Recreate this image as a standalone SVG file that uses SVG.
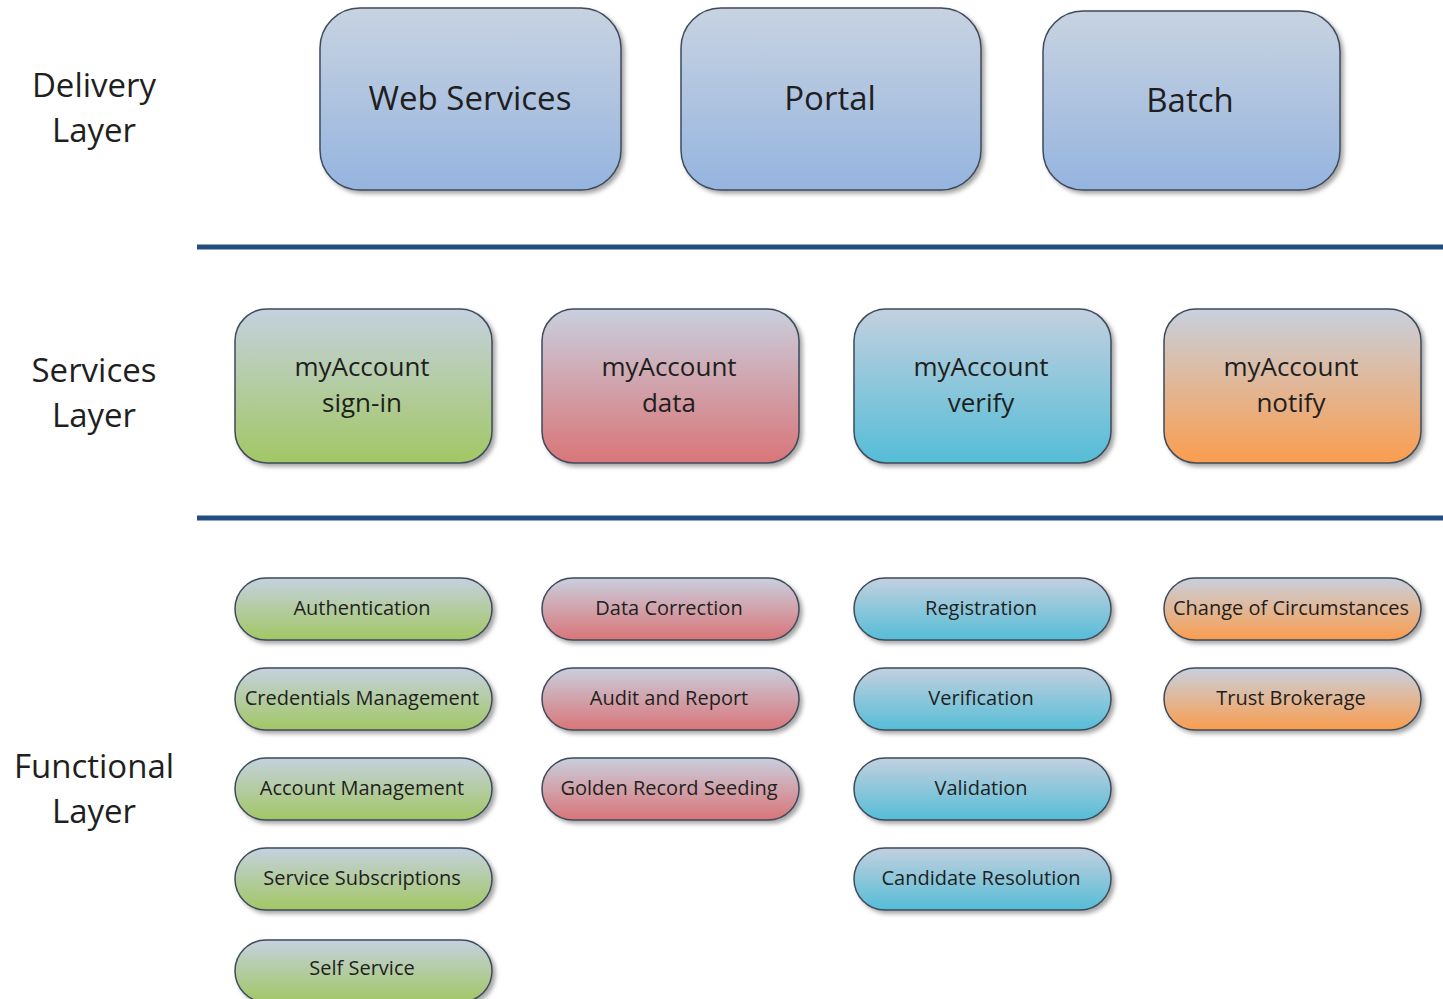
<svg xmlns="http://www.w3.org/2000/svg" width="1443" height="999" viewBox="0 0 1443 999">
  <defs>
    <linearGradient id="gBlue" x1="0" y1="0" x2="0" y2="1">
      <stop offset="0" stop-color="#c8d3e1"/>
      <stop offset="1" stop-color="#95b4df"/>
    </linearGradient>
    <linearGradient id="gGreen" x1="0" y1="0" x2="0" y2="1">
      <stop offset="0" stop-color="#c5d1df"/>
      <stop offset="1" stop-color="#a2c764"/>
    </linearGradient>
    <linearGradient id="gRed" x1="0" y1="0" x2="0" y2="1">
      <stop offset="0" stop-color="#c9cfde"/>
      <stop offset="1" stop-color="#d97578"/>
    </linearGradient>
    <linearGradient id="gCyan" x1="0" y1="0" x2="0" y2="1">
      <stop offset="0" stop-color="#c3d0df"/>
      <stop offset="1" stop-color="#55bdd7"/>
    </linearGradient>
    <linearGradient id="gOrange" x1="0" y1="0" x2="0" y2="1">
      <stop offset="0" stop-color="#c8d0de"/>
      <stop offset="1" stop-color="#fa9d4e"/>
    </linearGradient>
    <filter id="shadow" x="-10%" y="-10%" width="125%" height="130%">
      <feDropShadow dx="3" dy="3" stdDeviation="2" flood-color="#6b6b6b" flood-opacity="0.6"/>
    </filter>
  </defs>
  <style>
    .box { stroke: #3e4b5c; stroke-width: 1.5; filter: url(#shadow); }
    .blue { fill: url(#gBlue); }
    .green { fill: url(#gGreen); }
    .red { fill: url(#gRed); }
    .cyan { fill: url(#gCyan); }
    .orange { fill: url(#gOrange); }
    text { font-family: "Open Sans", "Liberation Sans", sans-serif; fill: #1f1f1f; text-anchor: middle; }
    .layer { font-size: 33px; }
    .big { font-size: 33px; }
    .svc { font-size: 26px; }
    .fn { font-size: 20px; }
    .rule { stroke: #234c80; stroke-width: 5; }
  </style>

  <rect width="1443" height="999" fill="#ffffff"/>

  <!-- layer titles -->
  <g id="layer-labels">
    <text class="layer" x="94" y="97">Delivery</text>
    <text class="layer" x="94" y="142">Layer</text>
    <text class="layer" x="94" y="382">Services</text>
    <text class="layer" x="94" y="427">Layer</text>
    <text class="layer" x="94" y="778">Functional</text>
    <text class="layer" x="94" y="823">Layer</text>
  </g>

  <!-- layer separators -->
  <g id="separators">
    <line class="rule" x1="197" y1="247" x2="1443" y2="247"/>
    <line class="rule" x1="197" y1="518" x2="1443" y2="518"/>
  </g>

  <!-- delivery layer -->
  <g id="web-services">
    <rect class="box blue" x="320" y="8" width="301" height="182" rx="40"/>
    <text class="big" x="470" y="110">Web Services</text>
  </g>
  <g id="portal">
    <rect class="box blue" x="681" y="8" width="300" height="182" rx="40"/>
    <text class="big" x="830" y="110">Portal</text>
  </g>
  <g id="batch">
    <rect class="box blue" x="1043" y="11" width="297" height="179" rx="40"/>
    <text class="big" x="1190" y="112">Batch</text>
  </g>

  <!-- services layer -->
  <g id="myaccount-sign-in">
    <rect class="box green" x="235" y="309" width="257" height="154" rx="32"/>
    <text class="svc" x="362" y="376">myAccount</text>
    <text class="svc" x="362" y="412">sign-in</text>
  </g>
  <g id="myaccount-data">
    <rect class="box red" x="542" y="309" width="257" height="154" rx="32"/>
    <text class="svc" x="669" y="376">myAccount</text>
    <text class="svc" x="669" y="412">data</text>
  </g>
  <g id="myaccount-verify">
    <rect class="box cyan" x="854" y="309" width="257" height="154" rx="32"/>
    <text class="svc" x="981" y="376">myAccount</text>
    <text class="svc" x="981" y="412">verify</text>
  </g>
  <g id="myaccount-notify">
    <rect class="box orange" x="1164" y="309" width="257" height="154" rx="32"/>
    <text class="svc" x="1291" y="376">myAccount</text>
    <text class="svc" x="1291" y="412">notify</text>
  </g>

  <!-- functional layer: sign-in column -->
  <g id="authentication">
    <rect class="box green" x="235" y="578" width="257" height="62" rx="31"/>
    <text class="fn" x="362" y="615">Authentication</text>
  </g>
  <g id="credentials-management">
    <rect class="box green" x="235" y="668" width="257" height="62" rx="31"/>
    <text class="fn" x="362" y="705">Credentials Management</text>
  </g>
  <g id="account-management">
    <rect class="box green" x="235" y="758" width="257" height="62" rx="31"/>
    <text class="fn" x="362" y="795">Account Management</text>
  </g>
  <g id="service-subscriptions">
    <rect class="box green" x="235" y="848" width="257" height="62" rx="31"/>
    <text class="fn" x="362" y="885">Service Subscriptions</text>
  </g>
  <g id="self-service">
    <rect class="box green" x="235" y="940" width="257" height="62" rx="31"/>
    <text class="fn" x="362" y="975">Self Service</text>
  </g>

  <!-- functional layer: data column -->
  <g id="data-correction">
    <rect class="box red" x="542" y="578" width="257" height="62" rx="31"/>
    <text class="fn" x="669" y="615">Data Correction</text>
  </g>
  <g id="audit-and-report">
    <rect class="box red" x="542" y="668" width="257" height="62" rx="31"/>
    <text class="fn" x="669" y="705">Audit and Report</text>
  </g>
  <g id="golden-record-seeding">
    <rect class="box red" x="542" y="758" width="257" height="62" rx="31"/>
    <text class="fn" x="669" y="795">Golden Record Seeding</text>
  </g>

  <!-- functional layer: verify column -->
  <g id="registration">
    <rect class="box cyan" x="854" y="578" width="257" height="62" rx="31"/>
    <text class="fn" x="981" y="615">Registration</text>
  </g>
  <g id="verification">
    <rect class="box cyan" x="854" y="668" width="257" height="62" rx="31"/>
    <text class="fn" x="981" y="705">Verification</text>
  </g>
  <g id="validation">
    <rect class="box cyan" x="854" y="758" width="257" height="62" rx="31"/>
    <text class="fn" x="981" y="795">Validation</text>
  </g>
  <g id="candidate-resolution">
    <rect class="box cyan" x="854" y="848" width="257" height="62" rx="31"/>
    <text class="fn" x="981" y="885">Candidate Resolution</text>
  </g>

  <!-- functional layer: notify column -->
  <g id="change-of-circumstances">
    <rect class="box orange" x="1164" y="578" width="257" height="62" rx="31"/>
    <text class="fn" x="1291" y="615">Change of Circumstances</text>
  </g>
  <g id="trust-brokerage">
    <rect class="box orange" x="1164" y="668" width="257" height="62" rx="31"/>
    <text class="fn" x="1291" y="705">Trust Brokerage</text>
  </g>

  <!-- no connectors are drawn between the layers -->
  <g id="connectors"/>
</svg>
